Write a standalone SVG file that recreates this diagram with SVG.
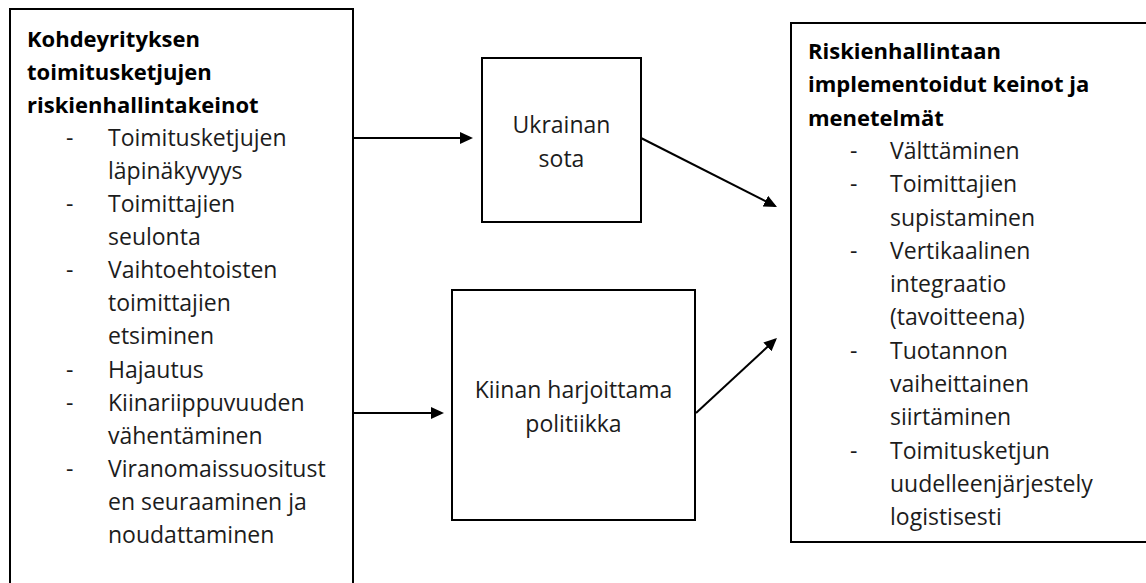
<svg xmlns="http://www.w3.org/2000/svg" width="1146" height="583" viewBox="0 0 1146 583">
  <style>
    .box { fill: #ffffff; stroke: #000000; stroke-width: 2; }
    .t { font-family: "Open Sans", "Liberation Sans", sans-serif; font-size: 23px; fill: #1c1c1c; }
    .b { font-family: "Open Sans", "Liberation Sans", sans-serif; font-size: 22px; font-weight: bold; fill: #000000; }
    .c { text-anchor: middle; }
    .conn { stroke: #000000; stroke-width: 2; fill: none; }
  </style>
  <defs>
    <marker id="arrow" markerUnits="userSpaceOnUse" markerWidth="14" markerHeight="12" refX="11" refY="6" orient="auto">
      <path d="M0,0 L13,6 L0,12 Z" fill="#000000"/>
    </marker>
  </defs>
  <rect width="1146" height="583" fill="#ffffff"/>

  <g id="left-node">
    <rect class="box" x="10" y="9" width="343" height="600"/>
    <text class="b" x="27" y="46.5">Kohdeyrityksen</text>
    <text class="b" x="27" y="79.6">toimitusketjujen</text>
    <text class="b" x="27" y="112.7">riskienhallintakeinot</text>
    <g class="t">
      <text x="66" y="145.8">-</text><text x="108" y="145.8">Toimitusketjujen</text>
      <text x="108" y="178.9">läpinäkyvyys</text>
      <text x="66" y="212">-</text><text x="108" y="212">Toimittajien</text>
      <text x="108" y="245.1">seulonta</text>
      <text x="66" y="278.2">-</text><text x="108" y="278.2">Vaihtoehtoisten</text>
      <text x="108" y="311.3">toimittajien</text>
      <text x="108" y="344.4">etsiminen</text>
      <text x="66" y="377.5">-</text><text x="108" y="377.5">Hajautus</text>
      <text x="66" y="410.6">-</text><text x="108" y="410.6">Kiinariippuvuuden</text>
      <text x="108" y="443.7">vähentäminen</text>
      <text x="66" y="476.8">-</text><text x="108" y="476.8">Viranomaissuositust</text>
      <text x="108" y="509.9">en seuraaminen ja</text>
      <text x="108" y="543">noudattaminen</text>
    </g>
  </g>

  <g id="ukraina-node">
    <rect class="box" x="482" y="58" width="159" height="164"/>
    <text class="t c" x="561.5" y="133">Ukrainan</text>
    <text class="t c" x="561.5" y="167">sota</text>
  </g>

  <g id="kiina-node">
    <rect class="box" x="452" y="290" width="243" height="230"/>
    <text class="t c" x="573.5" y="398">Kiinan harjoittama</text>
    <text class="t c" x="573.5" y="432">politiikka</text>
  </g>

  <g id="right-node">
    <rect class="box" x="791" y="23" width="400" height="519"/>
    <text class="b" x="808" y="59">Riskienhallintaan</text>
    <text class="b" x="808" y="92.3">implementoidut keinot ja</text>
    <text class="b" x="808" y="125.6">menetelmät</text>
    <g class="t">
      <text x="850" y="158.9">-</text><text x="890" y="158.9">Välttäminen</text>
      <text x="850" y="192.2">-</text><text x="890" y="192.2">Toimittajien</text>
      <text x="890" y="225.5">supistaminen</text>
      <text x="850" y="258.8">-</text><text x="890" y="258.8">Vertikaalinen</text>
      <text x="890" y="292.1">integraatio</text>
      <text x="890" y="325.4">(tavoitteena)</text>
      <text x="850" y="358.7">-</text><text x="890" y="358.7">Tuotannon</text>
      <text x="890" y="392">vaiheittainen</text>
      <text x="890" y="425.3">siirtäminen</text>
      <text x="850" y="458.6">-</text><text x="890" y="458.6">Toimitusketjun</text>
      <text x="890" y="491.9">uudelleenjärjestely</text>
      <text x="890" y="525.2">logistisesti</text>
    </g>
  </g>

  <g id="connectors">
    <line class="conn" x1="354" y1="138" x2="471" y2="138" marker-end="url(#arrow)"/>
    <line class="conn" x1="641" y1="138" x2="775.2" y2="206.1" marker-end="url(#arrow)"/>
    <line class="conn" x1="354" y1="413" x2="442" y2="413" marker-end="url(#arrow)"/>
    <line class="conn" x1="696" y1="413" x2="775.5" y2="339.4" marker-end="url(#arrow)"/>
  </g>
</svg>
